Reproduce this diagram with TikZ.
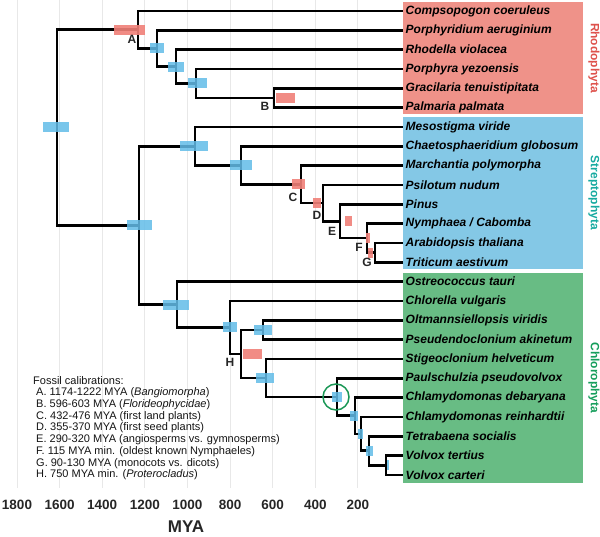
\documentclass[tikz,border=0pt]{standalone}
\usepackage{fontspec}
\setmainfont{Liberation Sans}
\usetikzlibrary{positioning,calc}
\definecolor{rhodobox}{RGB}{239,146,137}
\definecolor{streptobox}{RGB}{132,200,230}
\definecolor{chlorobox}{RGB}{104,188,132}
\definecolor{rhodotext}{RGB}{222,82,76}
\definecolor{streptotext}{RGB}{22,170,160}
\definecolor{chlorotext}{RGB}{22,158,92}
\definecolor{redbar}{RGB}{240,128,120}
\definecolor{bluebar}{RGB}{98,188,232}
\definecolor{circgreen}{RGB}{24,150,84}
\tikzset{
  branch/.style={line width=2.7pt, line cap=rect, line join=miter},
  gridline/.style={black!9, line width=1pt},
  taxon/.style={anchor=west, inner xsep=3.5pt, inner ysep=0pt,
    font=\fontsize{12}{14}\selectfont\bfseries\itshape},
  ticklabel/.style={font=\fontsize{13.5}{16}\selectfont\bfseries, text=black!85},
  axistitle/.style={font=\fontsize{17}{20}\selectfont\bfseries, text=black!85},
  cladelabel/.style={rotate=-90, font=\fontsize{12}{14}\selectfont\bfseries},
  callabel/.style={font=\fontsize{12}{14}\selectfont\bfseries, text=black!85, inner sep=0pt},
  legendline/.style={anchor=west, inner sep=0pt, font=\fontsize{11}{13}\selectfont, text=black!92},
  hpdred/.style={fill=redbar, fill opacity=.9},
  hpdblue/.style={fill=bluebar, fill opacity=.85},
}
\begin{document}
\begin{tikzpicture}[x=1pt, y=-1pt]
\useasboundingbox (0,0) rectangle (600,537);

\foreach \t [evaluate=\t as \gx using {17+(1800-\t)*0.2131}] in {1800,1600,...,200}{
  \draw[gridline] (\gx,0) -- (\gx,488);
  \node[ticklabel] (tick\t) at (\gx,505) {\t};
}
\node[axistitle] (mya) at (186,527) {MYA};

% clade boxes
\fill[rhodobox] (403,2) rectangle (583,114);
\fill[streptobox] (403,117) rectangle (583,269);
\fill[chlorobox] (403,273) rectangle (583,483);
\node[cladelabel, text=rhodotext] (rhodo) at (594,58) {Rhodophyta};
\node[cladelabel, text=streptotext] (strepto) at (594,193) {Streptophyta};
\node[cladelabel, text=chlorotext] (chloro) at (594,378) {Chlorophyta};

% tips
\foreach \name [count=\i] in {Compsopogon coeruleus, Porphyridium aeruginium,
  Rhodella violacea, Porphyra yezoensis, Gracilaria tenuistipitata,
  Palmaria palmata, Mesostigma viride, Chaetosphaeridium globosum,
  Marchantia polymorpha, Psilotum nudum, Pinus, Nymphaea / Cabomba,
  Arabidopsis thaliana, Triticum aestivum, Ostreococcus tauri,
  Chlorella vulgaris, Oltmannsiellopsis viridis, Pseudendoclonium akinetum,
  Stigeoclonium helveticum, Paulschulzia pseudovolvox, Chlamydomonas debaryana,
  Chlamydomonas reinhardtii, Tetrabaena socialis, Volvox tertius, Volvox carteri}
  \node[taxon] (t\i) at (402,{11+19.33*(\i-1)}) {\name};

% internal nodes
\coordinate (root) at (57,127.5);
\coordinate (nA) at (138,29.7);
\coordinate (nR2) at (157,48.4);
\coordinate (nR3) at (176,66.6);
\coordinate (nR4) at (196,83.5);
\coordinate (nB) at (274,98);
\coordinate (nGr) at (139,225.4);
\coordinate (nS1) at (195,146.2);
\coordinate (nS2) at (241,165.3);
\coordinate (nC) at (301,184.4);
\coordinate (nD) at (323,203.1);
\coordinate (nE) at (340,221.2);
\coordinate (nF) at (367,238.1);
\coordinate (nG) at (375,252.6);
\coordinate (nC1) at (177,304.6);
\coordinate (nC2) at (230,327.5);
\coordinate (nH) at (241,354);
\coordinate (nOP) at (263,330);
\coordinate (nSt) at (266,378);
\coordinate (nV1) at (337,397);
\coordinate (nV2) at (355,415.8);
\coordinate (nV3) at (361,433.9);
\coordinate (nV4) at (369,450.8);
\coordinate (nV5) at (386,465.3);

% branches
\foreach \p/\c in {root/nA, root/nGr, nA/t1.west, nA/nR2, nR2/t2.west, nR2/nR3,
  nR3/t3.west, nR3/nR4, nR4/t4.west, nR4/nB, nB/t5.west, nB/t6.west,
  nGr/nS1, nGr/nC1, nS1/t7.west, nS1/nS2, nS2/t8.west, nS2/nC,
  nC/t9.west, nC/nD, nD/t10.west, nD/nE, nE/t11.west, nE/nF,
  nF/t12.west, nF/nG, nG/t13.west, nG/t14.west,
  nC1/t15.west, nC1/nC2, nC2/t16.west, nC2/nH, nH/nOP, nH/nSt,
  nOP/t17.west, nOP/t18.west, nSt/t19.west, nSt/nV1, nV1/t20.west, nV1/nV2,
  nV2/t21.west, nV2/nV3, nV3/t22.west, nV3/nV4, nV4/t23.west, nV4/nV5,
  nV5/t24.west, nV5/t25.west}
  \draw[branch] (\p) |- (\c);

% age bars
\foreach \n/\a/\b in {root/43/69, nR2/150/164, nR3/168/184, nR4/188/207,
  nGr/127/152, nS1/180/208, nS2/230/252, nC1/163/189, nC2/223/237,
  nOP/254/272, nSt/256/274, nV1/332/342, nV2/350/358, nV3/358/363,
  nV4/366/373, nV5/387/389}
  \fill[hpdblue] ([yshift=5pt]\a,0 |- \n) rectangle ([yshift=-5pt]\b,0 |- \n);
\foreach \n/\a/\b in {nA/114/145, nB/276/295, nC/292/305, nD/313/321,
  nE/345/352, nF/366/370, nG/368/373, nH/243/262}
  \fill[hpdred] ([yshift=5pt]\a,0 |- \n) rectangle ([yshift=-5pt]\b,0 |- \n);

\node[draw=circgreen, line width=1.5pt, circle, minimum size=26pt, inner sep=0pt] (volvocales) at (336,397) {};

% calibration labels
\node[callabel] (labA) at (132,39) {A};
\node[callabel] (labB) at (265,106) {B};
\node[callabel] (labC) at (293,197) {C};
\node[callabel] (labD) at (317,215) {D};
\node[callabel] (labE) at (332,231) {E};
\node[callabel] (labF) at (359,247) {F};
\node[callabel] (labG) at (367,262) {G};
\node[callabel] (labH) at (230,362) {H};

% legend
\node[legendline] (leg0) at (33,381) {Fossil calibrations:};
\foreach \txt [count=\i] in {A. 1174-1222 MYA (\textit{Bangiomorpha}),
  B. 596-603 MYA (\textit{Florideophycidae}),
  C. 432-476 MYA (first land plants),
  D. 355-370 MYA (first seed plants),
  E. 290-320 MYA (angiosperms vs. gymnosperms),
  F. 115 MYA min. (oldest known Nymphaeles),
  G. 90-130 MYA (monocots vs. dicots),
  H. 750 MYA min. (\textit{Proterocladus})}
  \node[legendline] (leg\i) at (36,{393+11.7*(\i-1)}) {\txt};

\end{tikzpicture}
\end{document}
